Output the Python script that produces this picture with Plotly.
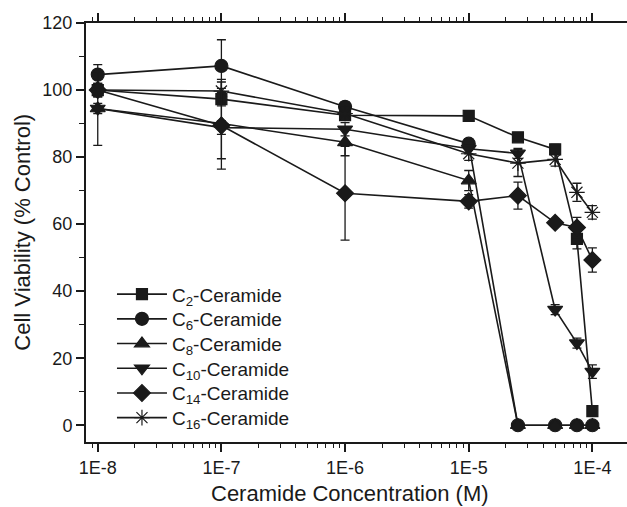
import plotly.graph_objects as go

conc = [1e-8, 1e-7, 1e-6, 1e-5, 2.5e-5, 5e-5, 7.5e-5, 1e-4]

c2 = [100, 97.3, 92.5, 92.3, 85.9, 82.3, 55.6, 4.2]
c2_err = [1.5, 2, 1.5, 1, 1, 1.5, 3, 1]
c6 = [104.6, 107.2, 95.0, 84.0, 0, 0, 0, 0]
c6_err = [3, 7.8, 1.5, 1.5, 0.5, 0.5, 0.5, 0.5]
c8 = [94.5, 90.0, 84.4, 73.0, 0, 0, 0, 0]
c8_err = [11, 10.5, 4, 3, 0.5, 0.5, 0.5, 0.5]
c10 = [94.5, 88.8, 88.3, 82.5, 81.1, 34.5, 24.5, 16.0]
c10_err = [1.5, 2, 2, 1.5, 1.5, 1.5, 1.5, 2]
c14 = [100, 89.4, 69.2, 66.8, 68.5, 60.4, 59.0, 49.3]
c14_err = [2, 13, 14, 2, 4, 1, 3, 3.6]
c16 = [100, 99.7, 93, 81, 78.2, 79.3, 69.5, 63.5]
c16_err = [2, 3.5, 2, 2, 4, 2, 2.7, 2]

names = ["C<sub>2</sub>-Ceramide", "C<sub>6</sub>-Ceramide", "C<sub>8</sub>-Ceramide",
         "C<sub>10</sub>-Ceramide", "C<sub>14</sub>-Ceramide", "C<sub>16</sub>-Ceramide"]
series = [c2, c6, c8, c10, c14, c16]
errors = [c2_err, c6_err, c8_err, c10_err, c14_err, c16_err]
symbols = ["square", "circle", "triangle-up", "triangle-down", "diamond", "asterisk-open"]
sizes = [11, 13, 13, 13, 13, 13]

x_major = [1e-8, 1e-7, 1e-6, 1e-5, 1e-4]
x_labels = ["1E-8", "1E-7", "1E-6", "1E-5", "1E-4"]
x_minor = [m * 10 ** e for e in range(-9, -3) for m in range(2, 10)]
y_major = [0, 20, 40, 60, 80, 100, 120]
y_minor = [10, 30, 50, 70, 90, 110]

ink = "#1a1a1a"
font = "Arial, 'Liberation Sans', sans-serif"

# plot area in pixels (for placing legend rows)
plot_top, plot_bottom = 23, 442
legend_rows_px = [294.3, 319.0, 343.7, 368.4, 393.1, 417.8]

fig = go.Figure()
legend_layout = {}
for i, (name, ys, err, sym, sz) in enumerate(zip(names, series, errors, symbols, sizes)):
    key = "legend" if i == 0 else f"legend{i + 1}"
    fig.add_trace(go.Scatter(
        x=conc, y=ys, name=name, mode="lines+markers", legend=key,
        line=dict(color=ink, width=1.6),
        marker=dict(symbol=sym, size=sz, color=ink,
                    line=dict(color=ink, width=1.2)),
        error_y=dict(type="data", array=err, visible=True, color=ink,
                     thickness=1.3, width=4.5),
    ))
    legend_layout[key] = dict(
        x=0.048, y=(plot_bottom - legend_rows_px[i]) / (plot_bottom - plot_top),
        xanchor="left", yanchor="middle", bgcolor="rgba(0,0,0,0)",
        font=dict(size=19, family=font, color=ink), itemwidth=50,
    )

fig.update_layout(
    width=627, height=507,
    margin=dict(l=86, r=0, t=23, b=65),
    paper_bgcolor="white", plot_bgcolor="white",
    font=dict(family=font, color=ink, size=18),
    showlegend=True,
    xaxis=dict(type="log", range=[-8.095, -3.72],
               tickmode="array", tickvals=x_major, ticktext=x_labels,
               ticks="outside", ticklen=8, tickwidth=1.5, tickcolor=ink,
               minor=dict(tickmode="array", tickvals=x_minor, ticks="outside",
                          ticklen=4, tickwidth=1.2, tickcolor=ink),
               showline=True, linecolor=ink, linewidth=2, mirror="allticks",
               showgrid=False, zeroline=False,
               tickfont=dict(size=18)),
    yaxis=dict(range=[-5, 120],
               tickmode="array", tickvals=y_major,
               ticks="outside", ticklen=8, tickwidth=1.5, tickcolor=ink,
               minor=dict(tickmode="array", tickvals=y_minor, ticks="outside",
                          ticklen=5, tickwidth=1.2, tickcolor=ink),
               showline=True, linecolor=ink, linewidth=2,
               showgrid=False, zeroline=False,
               tickfont=dict(size=18)),
    annotations=[
        dict(text="Ceramide Concentration (M)", xref="paper", yref="paper",
             x=(350 - 86) / 541, y=-0.122, xanchor="center", yanchor="middle",
             showarrow=False, font=dict(size=22, family=font, color=ink)),
        dict(text="Cell Viability (% Control)", xref="paper", yref="paper",
             x=-0.118, y=0.5, xanchor="center", yanchor="middle", textangle=-90,
             showarrow=False, font=dict(size=22, family=font, color=ink)),
    ],
    **legend_layout,
)

fig.write_html("out.html")
